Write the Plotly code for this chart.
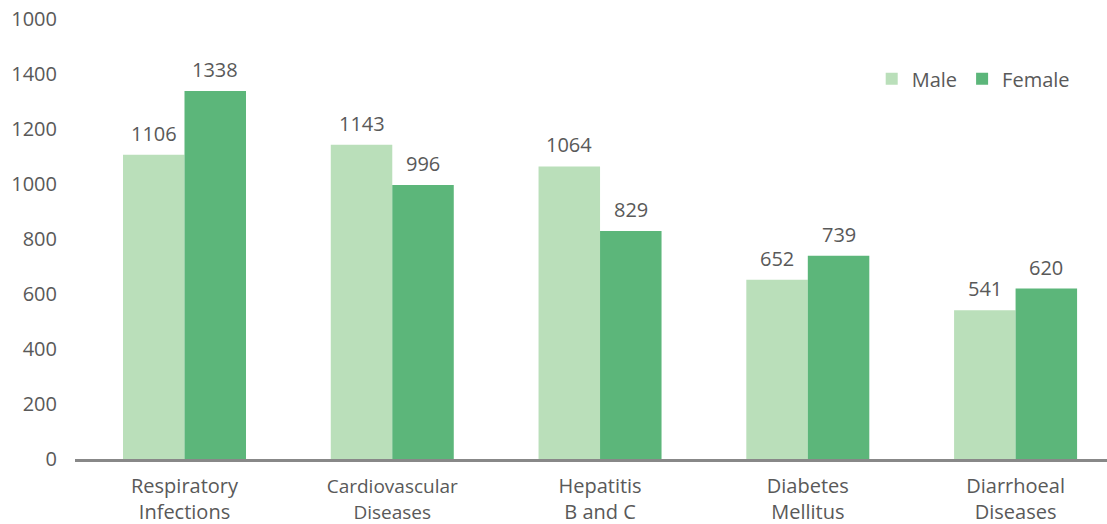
import plotly.graph_objects as go

categories = ["Respiratory<br>Infections", "Cardiovascular<br>Diseases", "Hepatitis<br>B and C",
              "Diabetes<br>Mellitus", "Diarrhoeal<br>Diseases"]
male = [1106, 1143, 1064, 652, 541]
female = [1338, 996, 829, 739, 620]
tick_vals = [0, 200, 400, 600, 800, 1000, 1200, 1400, 1600]
tick_text = ["0", "200", "400", "600", "800", "1000", "1200", "1400", "1000"]

MALE_COLOR = "#BADFBA"
FEMALE_COLOR = "#5CB67A"
TEXT_COLOR = "#595959"
FONT = "Open Sans"
SIZE = 20

# the cardiovascular label is set slightly smaller than the others
cat_labels = [c if not c.startswith("Cardio") else
              "<span style='font-size:19px'>" + c.replace("<br>", "</span><br><span style='font-size:19px'>") + "</span>"
              for c in categories]

fig = go.Figure()
fig.add_trace(go.Bar(name="Male", x=categories, y=male, marker_color=MALE_COLOR, marker_line_width=0))
fig.add_trace(go.Bar(name="Female", x=categories, y=female, marker_color=FEMALE_COLOR, marker_line_width=0))

# value labels above each bar
half_bar = 30.75
for cat, m, f in zip(categories, male, female):
    for val, shift in ((m, -half_bar), (f, half_bar)):
        fig.add_annotation(x=cat, y=val, text=str(val), showarrow=False,
                           xshift=shift, yshift=6, yanchor="bottom",
                           font=dict(family=FONT, size=SIZE, color=TEXT_COLOR))

fig.update_layout(
    width=1107, height=524,
    margin=dict(l=75, r=0, t=19, b=65, autoexpand=False),
    paper_bgcolor="white", plot_bgcolor="white",
    barmode="group", bargap=0.408, bargroupgap=0,
    font=dict(family=FONT, size=SIZE, color=TEXT_COLOR),
    showlegend=True,
    legend=dict(orientation="h", x=0.772, y=0.864, xanchor="left", yanchor="middle",
                font=dict(family=FONT, size=SIZE, color=TEXT_COLOR),
                bgcolor="rgba(0,0,0,0)", itemwidth=30, traceorder="normal"),
    xaxis=dict(range=[-0.527, 4.44], showgrid=False, showline=True, linecolor="#888888",
               linewidth=2.5, ticks="", tickfont=dict(family=FONT, size=SIZE, color=TEXT_COLOR),
               tickvals=categories, ticktext=cat_labels, ticklabelstandoff=7, automargin=False),
    yaxis=dict(range=[0, 1600], tickvals=tick_vals, ticktext=tick_text, showgrid=False,
               zeroline=False, showline=False, ticks="", automargin=False,
               tickfont=dict(family=FONT, size=SIZE, color=TEXT_COLOR), ticklabelstandoff=17),
)

fig.write_html("out.html")
